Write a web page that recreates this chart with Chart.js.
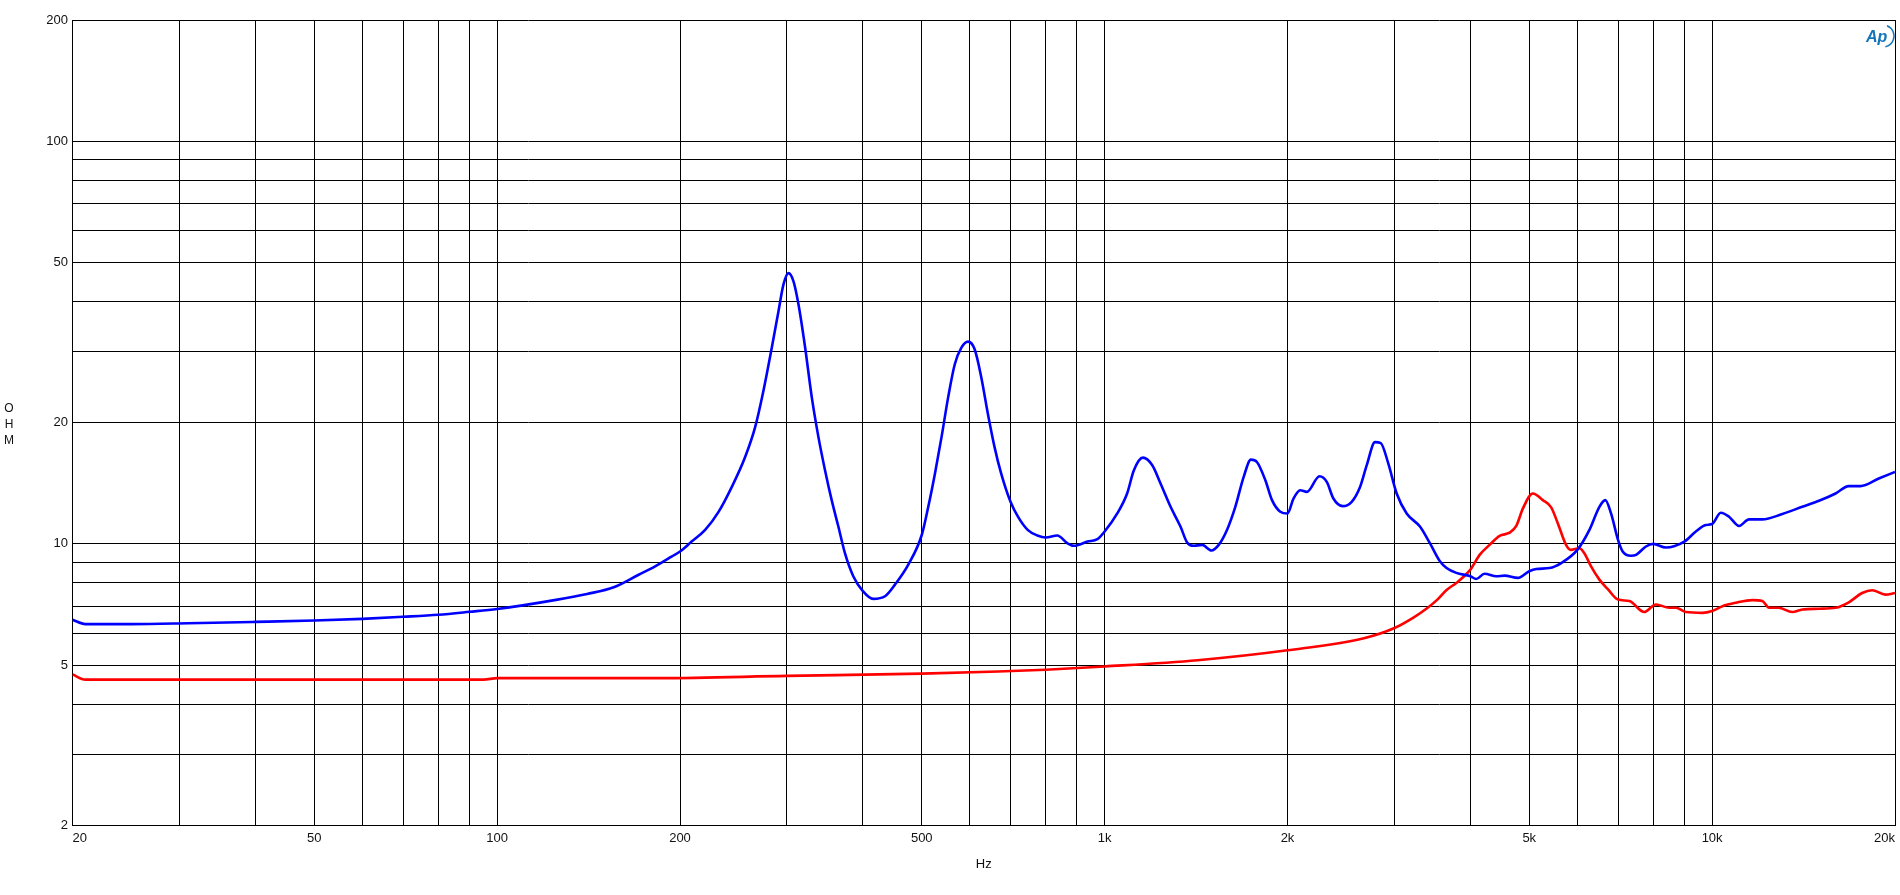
<!DOCTYPE html>
<html><head><meta charset="utf-8">
<script src="https://cdn.jsdelivr.net/npm/chart.js@4.4.1/dist/chart.umd.min.js"></script>
<style>html,body{margin:0;padding:0;background:#fff;overflow:hidden}canvas{display:block}</style>
</head><body>
<canvas id="c" width="1900" height="895"></canvas>
<script>
// ---- data ----
const blueFreq = [20,21,25,31,40,50,60,70,80,90,100,125,140.6,155.6,171,182,194,200,209,220,231.6,243.4,256,265.9,274.4,283.2,290.5,296,301.7,307.5,313.4,321.4,329.6,338,346.6,355.4,364.5,373.7,385.7,400,416,435,451.7,474.9,500,512.5,525.6,538.9,552.6,566.7,581.1,595.9,611,626.6,642.5,658.9,675.7,700,720,747,775,800,836,868,890,937,973,1000,1049,1089,1117,1156,1198,1236,1284,1333,1367,1402,1447,1499,1541,1590,1641,1694,1741,1781,1839,1886,1946,2000,2046,2099,2152,2258,2321,2380,2466,2551,2633,2700,2787,2848,2931,3025,3142,3304,3431,3564,3655,3793,4000,4090,4220,4413,4554,4789,5000,5134,5400,5643,6000,6281,6523,6671,6817,7000,7124,7352,7496,7781,8000,8391,9000,9401,9763,10000,10333,10663,11074,11501,12096,13048,14072,14993,15966,16788,17546,18806,20000];
const blueOhm = [6.48,6.32,6.32,6.35,6.40,6.45,6.51,6.59,6.67,6.78,6.89,7.26,7.51,7.80,8.38,8.79,9.31,9.57,10.13,10.83,12.02,13.85,16.43,19.49,24.00,30.70,37.83,44.02,47.03,44.86,39.29,30.70,23.11,18.41,15.22,12.84,11.04,9.48,8.31,7.63,7.30,7.41,7.92,8.87,10.52,12.36,14.94,18.41,23.11,27.93,30.70,31.78,30.42,25.90,21.02,17.39,14.94,12.72,11.68,10.83,10.49,10.37,10.49,10.04,9.89,10.13,10.27,10.73,11.90,13.34,15.22,16.37,15.67,14.12,12.36,11.04,10.08,9.89,9.94,9.63,9.94,10.83,12.36,14.67,16.19,15.97,14.39,12.84,12.02,11.90,12.96,13.59,13.46,14.72,14.25,12.96,12.41,12.72,13.85,15.67,17.89,17.79,15.82,13.34,11.90,11.04,10.04,9.05,8.71,8.47,8.31,8.18,8.43,8.31,8.34,8.23,8.55,8.66,8.71,8.96,9.66,10.83,12.36,12.84,11.90,10.23,9.57,9.34,9.39,9.85,10.0,9.79,10.13,10.73,11.14,11.20,11.95,11.68,11.08,11.50,11.50,11.86,12.36,12.79,13.34,13.91,13.91,14.53,15.09];

const redFreq = [20,21,50,95,100,185,300,500,668,800,1000,1422,2000,2672,3000,3228,3394,3526,3651,3793,4000,4143,4302,4468,4641,4760,4882,5069,5264,5433,5571,5749,5849,6044,6161,6320,6523,6729,7000,7307,7731,8082,8500,8717,9052,9640,10000,10398,10937,11649,12096,12407,12857,13552,14072,14993,15966,16788,17656,18341,19289,20000];
const redOhm = [4.74,4.60,4.60,4.60,4.64,4.64,4.70,4.76,4.82,4.87,4.96,5.14,5.44,5.83,6.18,6.57,6.92,7.26,7.67,8.00,8.63,9.39,9.94,10.47,10.66,11.08,12.25,13.34,12.84,12.32,11.25,9.94,9.66,9.75,9.48,8.79,8.15,7.73,7.27,7.21,6.77,7.07,6.94,6.94,6.77,6.74,6.81,7.00,7.14,7.25,7.21,6.94,6.94,6.77,6.87,6.90,6.94,7.16,7.55,7.67,7.48,7.55];

const xTicks = [20,30,40,50,60,70,80,90,100,200,300,400,500,600,700,800,900,1000,2000,3000,4000,5000,6000,7000,8000,9000,10000,20000];
const xTickLabels = {20:'20',50:'50',100:'100',200:'200',500:'500',1000:'1k',2000:'2k',5000:'5k',10000:'10k',20000:'20k'};
const yTicks = [2,3,4,5,6,7,8,9,10,20,30,40,50,60,70,80,90,100,200];
const yTickLabels = {2:'2',5:'5',10:'10',20:'20',50:'50',100:'100',200:'200'};
const xAxisTitle = 'Hz';
const yAxisTitle = ['O','H','M'];
const logoText = 'Ap';

// ---- chart ----
const FONT = 'Liberation Sans, Arial, sans-serif';
const TXT = '#111';

const sidePlugin = {
  id: 'sideText',
  afterDraw(chart) {
    const ctx = chart.ctx;
    ctx.save();
    ctx.fillStyle = TXT;
    ctx.font = '12px ' + FONT;
    ctx.textAlign = 'center';
    ctx.textBaseline = 'middle';
    const midY = 425;
    yAxisTitle.forEach((t, i) => ctx.fillText(t, 9, midY + (i - 1) * 16));
    // logo
    ctx.fillStyle = '#1474b8';
    ctx.strokeStyle = '#1474b8';
    ctx.font = 'italic bold 16px ' + FONT;
    ctx.textAlign = 'left';
    ctx.textBaseline = 'alphabetic';
    ctx.fillText(logoText, 1866, 42);
    ctx.lineWidth = 1.5;
    ctx.beginPath();
    ctx.arc(1883, 36, 11, -1.2, 1.35);
    ctx.stroke();
    ctx.restore();
  }
};

new Chart(document.getElementById('c').getContext('2d'), {
  type: 'line',
  data: {
    datasets: [
      { data: blueFreq.map((f, i) => ({x: f, y: blueOhm[i]})), borderColor: '#0000ff', borderWidth: 2.6,
        pointRadius: 0, fill: false, cubicInterpolationMode: 'monotone' },
      { data: redFreq.map((f, i) => ({x: f, y: redOhm[i]})), borderColor: '#ff0000', borderWidth: 2.6,
        pointRadius: 0, fill: false, cubicInterpolationMode: 'monotone' }
    ]
  },
  options: {
    responsive: false, animation: false, devicePixelRatio: 1,
    layout: { padding: { top: 20, right: 0.5, bottom: 0, left: 0 } },
    plugins: { legend: { display: false }, tooltip: { enabled: false } },
    scales: {
      x: {
        type: 'logarithmic', min: 20, max: 20000,
        afterBuildTicks: s => { s.ticks = xTicks.map(v => ({value: v})); },
        ticks: { autoSkip: false, maxRotation: 0, minRotation: 0, align: 'inner', padding: 5, color: TXT,
                 font: { family: FONT, size: 13 }, callback: v => xTickLabels[v] || '' },
        grid: { color: '#000', lineWidth: 1, drawTicks: false },
        border: { color: '#000', width: 1 },
        title: { display: true, text: xAxisTitle, color: TXT, font: { family: FONT, size: 13 },
                 padding: { top: 5.3, bottom: 23.2 } }
      },
      y: {
        type: 'logarithmic', min: 2, max: 200,
        afterBuildTicks: s => { s.ticks = yTicks.map(v => ({value: v})); },
        afterFit: s => { s.width = 72.5; },
        ticks: { autoSkip: false, padding: 4.5, color: TXT, font: { family: FONT, size: 13 },
                 callback: v => yTickLabels[v] || '' },
        grid: { color: '#000', lineWidth: 1, drawTicks: false },
        border: { color: '#000', width: 1 }
      }
    }
  },
  plugins: [sidePlugin]
});
</script>
</body></html>
